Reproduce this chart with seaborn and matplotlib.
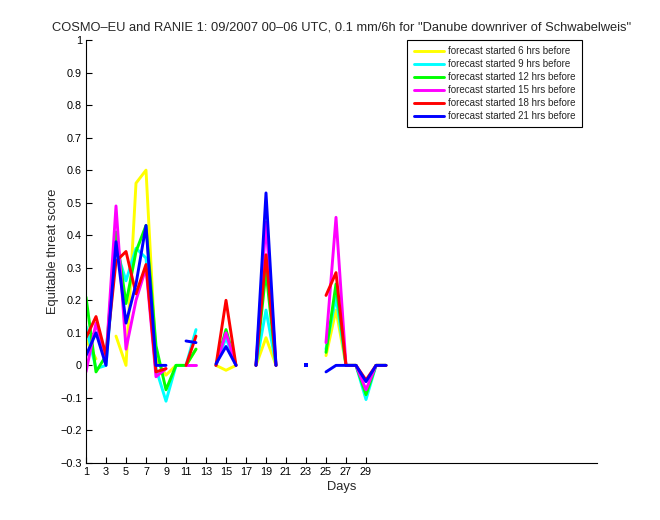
import numpy as np
import pandas as pd
import matplotlib
matplotlib.use("Agg")
import matplotlib.pyplot as plt
import seaborn as sns
from matplotlib.lines import Line2D

nan = np.nan
days = list(range(1, 32))
labels = ["forecast started 6 hrs before", "forecast started 9 hrs before",
          "forecast started 12 hrs before", "forecast started 15 hrs before",
          "forecast started 18 hrs before", "forecast started 21 hrs before"]
colors = ["#ffff00", "#00ffff", "#00ff00", "#ff00ff", "#ff0000", "#0000ff"]

ets_6h = [0.08, 0.02, nan, 0.09, 0.0, 0.56, 0.60, 0.02, -0.03, 0.0, 0.0, 0.05, nan,
          0.0, -0.015, 0.0, nan, 0.0, 0.085, 0.0, nan, nan, nan, nan,
          0.03, 0.17, 0.0, 0.0, -0.08, 0.0, 0.0]
ets_9h = [0.12, -0.01, 0.0, 0.36, 0.26, 0.36, 0.33, -0.01, -0.11, 0.0, 0.0, 0.11, nan,
          0.0, 0.085, 0.0, nan, 0.0, 0.17, 0.0, nan, nan, nan, nan,
          0.05, 0.21, 0.0, 0.0, -0.105, 0.0, 0.0]
ets_12h = [0.21, -0.02, 0.03, 0.41, 0.19, 0.35, 0.43, 0.06, -0.075, 0.0, 0.0, 0.05, nan,
           0.0, 0.11, 0.0, nan, 0.0, 0.29, 0.0, nan, nan, nan, nan,
           0.04, 0.25, 0.0, 0.0, -0.09, 0.0, 0.0]
ets_15h = [-0.02, 0.13, 0.02, 0.49, 0.05, 0.20, 0.30, -0.035, -0.01, nan, 0.0, 0.0, nan,
           0.0, 0.10, 0.0, nan, 0.0, 0.44, 0.0, nan, nan, nan, nan,
           0.07, 0.455, 0.0, 0.0, -0.075, 0.0, 0.0]
ets_18h = [0.085, 0.15, 0.03, 0.32, 0.35, 0.22, 0.31, -0.02, -0.01, nan, 0.0, 0.09, nan,
           0.0, 0.20, 0.0, nan, 0.0, 0.34, 0.0, nan, nan, nan, nan,
           0.215, 0.285, 0.0, 0.0, -0.045, 0.0, 0.0]
ets_21h = [0.03, 0.10, 0.0, 0.38, 0.13, 0.25, 0.43, 0.0, 0.0, nan, 0.075, 0.07, nan,
           0.005, 0.058, 0.0, nan, 0.0, 0.53, 0.0, nan, nan, 0.0, nan,
           -0.02, 0.0, 0.0, 0.0, -0.05, 0.0, 0.0]
series = [ets_6h, ets_9h, ets_12h, ets_15h, ets_18h, ets_21h]
xticks = list(range(1, 30, 2))
yticks = [round(v, 1) for v in np.arange(-0.3, 1.01, 0.1)]

# long-form table with segment ids so gaps (NaN) stay gaps
rows = []
for lab, vals in zip(labels, series):
    seg = 0
    prev_nan = True
    for d, v in zip(days, vals):
        if np.isnan(v):
            prev_nan = True
            continue
        if prev_nan:
            seg += 1
        prev_nan = False
        rows.append({"day": d, "ets": v, "series": lab, "seg": f"{lab}-{seg}"})
df = pd.DataFrame(rows)
df["n"] = df.groupby("seg")["day"].transform("size")

sns.set_style("white")
plt.rcParams["font.family"] = ["Liberation Sans", "DejaVu Sans"]

fig = plt.figure(figsize=(6.6, 5.2), dpi=100)
ax = fig.add_axes([86 / 660, 57 / 520, 511 / 660, 423 / 520])

palette = dict(zip(labels, colors))
sns.lineplot(data=df, x="day", y="ets", hue="series", units="seg", estimator=None,
             palette=palette, hue_order=labels, linewidth=2.1, ax=ax, legend=False,
             sort=True)
iso = df[df["n"] == 1]
if len(iso):
    sns.scatterplot(data=iso, x="day", y="ets", hue="series", palette=palette,
                    hue_order=labels, marker="s", s=6, linewidth=0, ax=ax, legend=False)

ax.set_xlim(1, 52.1)
ax.set_ylim(-0.3, 1.0)
ax.set_xticks(xticks)
ax.set_xticklabels([str(t) for t in xticks])
ax.set_yticks(yticks)
ax.set_yticklabels([("0" if abs(t) < 1e-9 else ("1" if t == 1 else f"{t:g}".replace("-", "\u2212"))) for t in yticks])
ax.tick_params(direction="in", length=4, width=0.8, labelsize=7.8, colors="black", pad=3,
               bottom=True, left=True)
for s in ["top", "right"]:
    ax.spines[s].set_visible(False)
for s in ["left", "bottom"]:
    ax.spines[s].set_color("black")
    ax.spines[s].set_linewidth(0.8)

ax.set_xlabel("Days", fontsize=9.3, labelpad=3)
ax.set_ylabel("Equitable threat score", fontsize=9.3, labelpad=1)
ax.set_title('COSMO\u2013EU and RANIE 1: 09/2007 00\u201306 UTC, 0.1 mm/6h for "Danube downriver of Schwabelweis"',
             fontsize=9.3, pad=7)

handles = [Line2D([0], [0], color=c, lw=2.1) for c in colors]
leg = ax.legend(handles, labels, loc="upper right", bbox_to_anchor=((582 - 86) / 511, 1.0),
                fontsize=7, frameon=True, fancybox=False, framealpha=1, edgecolor="black",
                handlelength=3.1, handletextpad=0.45, labelspacing=0.3, borderpad=0.65,
                borderaxespad=0)
leg.get_frame().set_linewidth(0.8)

fig.savefig("out.png", dpi=100, facecolor="white")
